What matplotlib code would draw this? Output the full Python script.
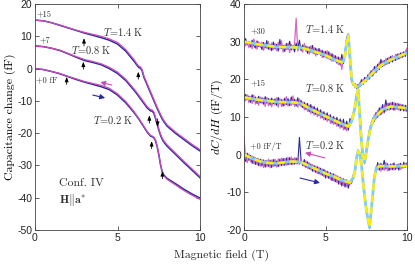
import numpy as np
import matplotlib
matplotlib.use("Agg")
import matplotlib.pyplot as plt

plt.rcParams['mathtext.fontset'] = 'cm'
plt.rcParams['axes.unicode_minus'] = False
plt.rcParams['font.family'] = ['Liberation Sans', 'DejaVu Sans']

# ---------------- Left panel: capacitance change (fF) ----------------
field_l = [0, 0.5, 1, 1.5, 2, 2.5, 3, 3.5, 4, 4.5, 5, 5.5, 6, 6.2, 6.3, 6.4, 6.5, 6.6, 6.8,
           7.0, 7.1, 7.2, 7.3, 7.4, 7.5, 7.6, 7.7, 7.8, 8.0, 8.5, 9.0, 9.5, 10]

cap14_up = [15, 14.8, 14.2, 13.4, 12.6, 11.8, 11.0, 10.3, 9.6, 8.8, 7.6, 5.4, 2.3, 0.9, 0.3, 0.1, -0.8,
            -2.7, -5.1, -7.5, -8.7, -9.9, -11.1, -12.3, -13.4, -14.5, -15.5, -16.4, -17.8, -20.0,
            -21.9, -23.8, -25.5]
cap14_dn = [15, 14.8, 14.2, 13.5, 12.7, 11.9, 11.2, 10.6, 10.0, 9.2, 8.1, 5.9, 2.8, 1.3, 0.7, 0.5, -0.4,
            -2.3, -4.7, -7.1, -8.3, -9.5, -10.7, -11.9, -13.0, -14.1, -15.1, -16.0, -17.4, -19.6,
            -21.5, -23.4, -25.1]
cap08_up = [7, 6.8, 6.3, 5.6, 4.6, 3.5, 2.5, 1.9, 1.2, 0.0, -1.5, -3.7, -6.7, -8.0, -8.7, -9.4, -10.1,
            -10.8, -12.2, -13.1, -13.2, -13.8, -15.4, -17.2, -19.0, -20.6, -21.8, -22.7, -24.0,
            -26.5, -29.0, -31.4, -33.8]
cap08_dn = [7, 6.8, 6.3, 5.7, 4.7, 3.7, 2.8, 2.2, 1.5, 0.4, -1.1, -3.3, -6.3, -7.6, -8.3, -9.0, -9.7,
            -10.4, -11.8, -12.7, -12.8, -13.4, -15.0, -16.8, -18.6, -20.2, -21.4, -22.3, -23.6,
            -26.1, -28.6, -31.0, -33.4]
cap02_up = [0, -0.3, -0.9, -1.6, -2.5, -3.4, -4.2, -4.9, -5.6, -6.5, -8.2, -10.6, -13.6, -15.0,
            -15.7, -16.5, -17.3, -18.1, -19.7, -20.9, -21.1, -21.4, -22.3, -24.1, -26.6, -29.6,
            -31.8, -32.9, -34.0, -35.6, -37.3, -38.8, -40.1]
cap02_dn = [0, -0.3, -0.9, -1.5, -2.4, -3.2, -4.0, -4.6, -5.2, -6.1, -7.8, -10.2, -13.3, -14.8,
            -15.5, -16.3, -17.1, -17.9, -19.5, -20.7, -20.9, -21.2, -22.1, -23.9, -26.4, -29.4,
            -31.8, -33.1, -34.3, -36.0, -37.7, -39.2, -40.5]

# ---------------- Right panel: dC/dH (fF/T) ----------------
field_r = [0.0, 0.1, 0.2, 0.3, 0.4, 0.5, 0.6, 0.7, 0.8, 0.9, 1.0, 1.1, 1.2, 1.3, 1.4, 1.5, 1.6, 1.7,
           1.8, 1.9, 2.0, 2.1, 2.2, 2.3, 2.4, 2.5, 2.6, 2.7, 2.8, 2.9, 3.0, 3.1, 3.2, 3.3, 3.4, 3.5,
           3.6, 3.7, 3.8, 3.9, 4.0, 4.1, 4.2, 4.3, 4.4, 4.5, 4.6, 4.7, 4.8, 4.9, 5.0, 5.1, 5.2, 5.3,
           5.4, 5.5, 5.6, 5.7, 5.8, 5.9, 6.0, 6.1, 6.2, 6.3, 6.4, 6.5, 6.6, 6.7, 6.8, 6.9, 7.0, 7.1,
           7.2, 7.3, 7.4, 7.5, 7.6, 7.7, 7.8, 7.9, 8.0, 8.1, 8.2, 8.3, 8.4, 8.5, 8.6, 8.7, 8.8, 8.9,
           9.0, 9.1, 9.2, 9.3, 9.4, 9.5, 9.6, 9.7, 9.8, 9.9, 10.0]

d14_up = [29.5, 30.8, 29.2, 30.1, 28.6, 30.4, 29.0, 28.3, 30.2, 28.7, 29.6, 27.9, 29.8, 28.4, 30.3,
          28.0, 29.2, 27.6, 29.9, 28.1, 29.3, 27.5, 30.6, 28.2, 29.0, 27.4, 29.5, 28.0, 30.1, 27.8,
          28.9, 27.3, 29.6, 28.1, 30.4, 27.6, 29.1, 27.9, 28.8, 26.9, 28.6, 27.2, 29.0, 26.8, 28.3,
          26.6, 28.2, 26.4, 27.7, 25.9, 27.4, 25.6, 27.3, 25.2, 26.8, 24.9, 26.3, 24.3, 25.9, 23.8,
          26.6, 24.2, 27.5, 30.9, 31.5, 23.9, 19.8, 18.4, 18.9, 17.6, 18.7, 18.0, 19.9, 18.6, 20.5,
          19.4, 21.2, 20.1, 22.3, 20.9, 23.4, 21.8, 24.0, 22.6, 25.3, 23.4, 25.0, 23.9, 25.6, 24.2,
          26.1, 24.6, 25.9, 25.0, 26.7, 25.4, 27.0, 25.8, 27.3, 26.1, 27.6]
d14_dn = [30.6, 28.9, 30.0, 28.4, 29.8, 28.1, 30.7, 29.3, 28.0, 30.0, 28.5, 29.9, 27.7, 29.4, 28.2,
          30.0, 27.8, 29.7, 27.9, 29.5, 27.6, 29.8, 28.0, 30.2, 27.2, 29.1, 27.9, 29.6, 27.1, 29.3,
          28.0, 29.4, 36.2, 27.5, 29.0, 28.8, 27.2, 29.5, 27.4, 28.7, 26.7, 28.9, 27.0, 28.4, 26.2,
          28.0, 26.9, 27.8, 25.8, 27.5, 25.9, 27.6, 25.4, 26.9, 24.8, 26.5, 24.7, 26.0, 23.9, 25.7,
          22.6, 25.6, 26.8, 31.2, 32.1, 24.5, 19.3, 19.0, 17.9, 18.5, 17.4, 19.1, 18.4, 20.0, 19.2,
          20.6, 19.9, 21.7, 20.8, 22.6, 21.6, 23.5, 22.3, 24.6, 23.1, 24.9, 23.6, 25.5, 24.1, 25.9,
          24.7, 26.3, 25.0, 26.6, 25.3, 26.8, 25.7, 27.1, 26.0, 27.4, 28.3]
d08_up = [14.4, 16.0, 14.7, 15.6, 13.9, 15.9, 14.2, 15.3, 13.6, 15.5, 13.8, 15.1, 13.4, 15.4, 13.7,
          14.9, 13.2, 15.0, 13.5, 14.8, 13.1, 15.2, 13.6, 14.6, 12.9, 15.0, 13.3, 14.9, 13.0, 15.3,
          13.4, 14.7, 12.9, 15.1, 13.2, 14.4, 12.5, 13.9, 12.0, 13.6, 11.4, 13.3, 11.1, 12.8, 10.7,
          12.4, 10.4, 11.9, 9.8, 11.4, 9.3, 11.1, 9.2, 10.6, 8.4, 10.1, 8.2, 9.9, 7.6, 9.5, 7.3,
          9.4, 6.7, 8.9, 6.5, 9.6, 8.9, 11.0, 12.4, 16.1, 16.8, 10.2, 3.5, -0.8, -1.6, 0.9, 3.2,
          6.8, 7.4, 9.7, 8.8, 11.2, 9.9, 12.4, 10.6, 13.3, 11.1, 14.5, 11.9, 13.7, 12.0, 13.9, 11.8,
          13.6, 12.1, 13.5, 11.7, 13.3, 11.6, 13.1, 11.5]
d08_dn = [15.8, 14.3, 15.9, 13.8, 15.4, 13.6, 15.8, 13.4, 15.1, 13.1, 15.3, 13.6, 15.0, 12.8, 15.2,
          13.0, 14.8, 12.7, 14.6, 13.2, 15.1, 12.6, 14.9, 12.8, 14.7, 13.0, 15.4, 12.9, 14.5, 13.1,
          15.6, 12.8, 14.6, 12.6, 14.8, 12.7, 14.0, 11.9, 13.6, 11.5, 13.2, 10.9, 12.8, 10.5, 12.3,
          10.1, 11.8, 9.7, 11.3, 9.2, 10.9, 8.8, 10.5, 8.3, 10.0, 8.0, 9.6, 7.5, 9.2, 7.0, 9.0,
          6.6, 8.5, 6.3, 8.2, 7.6, 9.8, 10.2, 13.0, 15.5, 17.6, 11.0, 4.2, -0.2, -2.4, 0.2, 3.9,
          5.8, 8.5, 8.2, 10.6, 9.5, 11.7, 10.4, 12.6, 11.0, 13.2, 11.5, 13.6, 11.8, 13.8, 12.0,
          13.9, 11.9, 13.7, 11.8, 13.4, 11.9, 13.2, 11.6, 12.9]
d02_up = [-0.5, -1.8, 0.4, -1.5, -0.2, -2.3, -0.6, -2.6, -1.0, -2.9, -1.2, -3.0, -1.4, -3.3, -1.6,
          -3.1, -1.5, -3.4, -1.3, -3.0, -1.7, -3.2, -1.2, -2.9, -1.0, -2.8, -0.9, -2.7, -0.8, -2.6,
          -1.1, -2.5, -0.9, -2.4, 4.6, -1.6, -2.9, -1.3, -3.4, -1.9, -3.8, -2.5, -4.4, -2.9, -4.7,
          -3.2, -5.1, -3.6, -5.5, -3.9, -6.2, -4.4, -6.3, -4.8, -6.9, -5.1, -7.2, -5.6, -7.8, -6.0,
          -8.3, -6.4, -8.6, -6.7, -8.9, -7.0, -7.6, -5.4, -5.0, -0.6, 0.7, 0.6, -2.8, -6.7, -11.4,
          -14.2, -17.3, -19.6, -14.6, -10.9, -5.7, -4.4, -2.1, -4.1, -2.3, -3.9, -1.5, -3.8, -2.4,
          -4.2, -2.5, -4.0, -2.2, -3.9, -2.6, -4.1, -2.3, -3.6, -2.0, -3.4, -2.2]
d02_dn = [4.4, -0.7, -2.1, 0.2, -1.9, -0.4, -2.4, -0.8, -2.7, -1.1, -3.1, -1.3, -3.4, -1.5, -3.2,
          -1.2, -3.5, -1.4, -3.1, -1.2, -3.3, -1.1, -3.0, -0.9, -2.9, -1.0, -2.8, -0.7, -2.6, -0.6,
          -2.7, -0.8, -2.5, -0.9, -2.6, -1.2, -2.4, -3.1, -1.6, -3.6, -2.1, -4.0, -2.6, -4.5, -3.0,
          -5.0, -3.3, -5.3, -3.8, -5.8, -4.2, -6.1, -4.6, -6.6, -5.0, -7.0, -5.4, -7.4, -5.9, -7.9,
          -6.3, -8.2, -6.6, -8.5, -7.1, -8.0, -6.4, -6.6, -3.9, -1.5, 1.3, 0.1, -2.2, -7.4, -10.6,
          -14.8, -16.7, -18.9, -15.5, -10.0, -6.4, -3.2, -4.0, -2.5, -4.4, -2.6, -4.2, -2.1, -4.3,
          -2.7, -4.0, -2.4, -4.1, -2.8, -3.7, -2.4, -3.9, -2.6, -3.5, -2.3, -3.2]

# smoothed derivative curves
fs14 = [0, 1, 2, 3, 3.5, 4, 5, 5.5, 6, 6.1, 6.2, 6.3, 6.4, 6.5, 6.6, 6.7, 6.9, 7.1, 7.5, 8, 8.5, 9, 9.5, 10]
sm14 = [30, 29.2, 28.6, 28.5, 28.4, 27.8, 26.4, 25.3, 24.5, 24.8, 26.5, 30, 31.8, 26, 20, 18.8, 18,
        18.4, 19.9, 22.2, 24, 25.2, 26.1, 27]
fs08 = [0, 1, 2, 3, 3.5, 4, 5, 6, 6.4, 6.6, 6.8, 6.9, 7.0, 7.1, 7.2, 7.3, 7.4, 7.5, 7.6, 7.8, 8, 8.5,
        9, 9.5, 10]
sm08 = [15.2, 14.5, 14.0, 13.9, 13.6, 12.3, 10.2, 8.2, 7.5, 8.8, 12.3, 15.5, 17.3, 10.5, 3.8, -0.4,
        -2.0, 0.6, 3.6, 7.8, 9.8, 12, 12.8, 12.6, 12.3]
fs02 = [0, 0.5, 1, 1.5, 2, 2.5, 3, 3.5, 4, 4.5, 5, 5.5, 6, 6.5, 6.7, 6.8, 6.9, 7.0, 7.1, 7.2, 7.3,
        7.4, 7.5, 7.6, 7.7, 7.8, 7.9, 8, 8.1, 8.3, 9, 10]
sm02 = [0, -1, -1.8, -2.2, -2.3, -2.0, -1.8, -2.0, -3.0, -4.0, -5, -5.8, -6.8, -7.4, -6.2, -4.5, -1,
        1, 0.3, -2.5, -7, -11, -14.5, -17, -19.3, -15, -10.5, -6, -3.8, -3.0, -3.1, -3.0]

BLUE = '#2a2a9a'
MAG = '#cc4cb8'
CYAN = '#7fcff2'
YEL = '#ffee00'
SERIF = 'cmr10'

fig = plt.figure(figsize=(4.15, 2.66), dpi=100)
axL = fig.add_axes([35/415, 36/266, 165/415, 226/266])
axR = fig.add_axes([244/415, 36/266, 163/415, 226/266])

for ax in (axL, axR):
    ax.tick_params(direction='in', top=True, right=True, length=3, width=0.5,
                   labelsize=7.5, pad=2, colors='#222222')
    for s in ax.spines.values():
        s.set_linewidth(0.6)
        s.set_color('#444444')

# left panel curves
for up, dn in ((cap14_up, cap14_dn), (cap08_up, cap08_dn), (cap02_up, cap02_dn)):
    axL.plot(field_l, up, color=BLUE, lw=1.1)
    axL.plot(field_l, dn, color=MAG, lw=0.9)

axL.set_xlim(0, 10)
axL.set_ylim(-50, 20)
axL.set_xticks([0, 5, 10])
axL.set_yticks([-50, -40, -30, -20, -10, 0, 10, 20])
axL.set_ylabel('Capacitance change (fF)', fontfamily=SERIF, fontsize=8.5, labelpad=1)

# black arrows (H, tail, tip)
arrows = [(2.97, 7.0, 9.4), (2.93, -0.2, 2.1), (1.92, -4.9, -2.6), (6.26, -3.3, -1.0),
          (6.93, -16.9, -14.5), (7.43, -15.6, -18.0), (7.07, -24.8, -22.5), (7.72, -34.1, -31.8)]
for h, t0, t1 in arrows:
    axL.annotate('', xy=(h, t1), xytext=(h, t0),
                 arrowprops=dict(arrowstyle='-|>,head_length=0.9,head_width=0.35', color='k',
                                 lw=0.6, mutation_scale=3, shrinkA=0, shrinkB=0))
ckw = dict(arrowstyle='-|>,head_length=0.6,head_width=0.3', lw=0.8, mutation_scale=5,
           shrinkA=0, shrinkB=0)
axL.annotate('', xy=(3.95, -4.2), xytext=(4.65, -5.1), arrowprops=dict(color=MAG, **ckw))
axL.annotate('', xy=(4.25, -9.1), xytext=(3.5, -8.2), arrowprops=dict(color=BLUE, **ckw))

tkw = dict(fontfamily=SERIF, color='#333333')
axL.text(0.12, 17.0, '+15', fontsize=6, va='center', **tkw)
axL.text(0.3, 8.8, '+7', fontsize=6, va='center', **tkw)
axL.text(0.05, -3.6, '+0 fF', fontsize=6, va='center', **tkw)
axL.text(4.1, 11.4, r'$T$=1.4 K', fontsize=7.5, va='center', **tkw)
axL.text(2.2, 5.8, r'$T$=0.8 K', fontsize=7.5, va='center', **tkw)
axL.text(3.5, -16.0, r'$T$=0.2 K', fontsize=7.5, va='center', **tkw)
axL.text(1.45, -35.6, 'Conf. IV', fontsize=8.5, va='center', **tkw)
axL.text(1.45, -40.6, r'$\mathbf{H}\Vert\mathbf{a}^{*}$', fontsize=8.5, va='center', **tkw)

# right panel
for up, dn, fs, sm in ((d14_up, d14_dn, fs14, sm14), (d08_up, d08_dn, fs08, sm08),
                       (d02_up, d02_dn, fs02, sm02)):
    axR.plot(field_r, up, color=BLUE, lw=0.8)
    axR.plot(field_r, dn, color=MAG, lw=0.9, alpha=0.85)
    axR.plot(fs, sm, color=CYAN, lw=2.0)
    axR.plot(fs, sm, color=YEL, lw=1.7, dashes=(3, 2))

axR.set_xlim(0, 10)
axR.set_ylim(-20, 40)
axR.set_xticks([0, 5, 10])
axR.set_yticks([-20, -10, 0, 10, 20, 30, 40])
axR.set_ylabel(r'$dC/dH$ (fF/T)', fontfamily=SERIF, fontsize=8.5, labelpad=1)

axR.annotate('', xy=(3.74, 0.5), xytext=(4.97, -0.85), arrowprops=dict(color=MAG, **ckw))
axR.annotate('', xy=(4.66, -7.5), xytext=(3.44, -6.2), arrowprops=dict(color=BLUE, **ckw))
axR.text(0.37, 32.8, '+30', fontsize=6, va='center', **tkw)
axR.text(0.37, 19.0, '+15', fontsize=6, va='center', **tkw)
axR.text(0.37, 2.3, '+0 fF/T', fontsize=6, va='center', **tkw)
axR.text(3.75, 33.4, r'$T$=1.4 K', fontsize=7.5, va='center', **tkw)
axR.text(3.75, 17.7, r'$T$=0.8 K', fontsize=7.5, va='center', **tkw)
axR.text(3.75, 2.6, r'$T$=0.2 K', fontsize=7.5, va='center', **tkw)

fig.text(221/415, 1 - 255/266, 'Magnetic field (T)', fontfamily=SERIF, fontsize=8.5,
         ha='center', va='center', color='#222222')

fig.savefig('out.png', dpi=100)
